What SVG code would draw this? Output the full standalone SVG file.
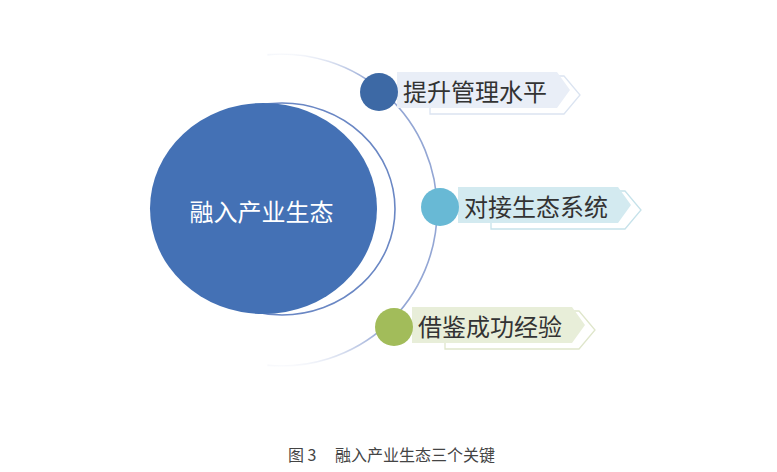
<svg xmlns="http://www.w3.org/2000/svg" width="777" height="472" viewBox="0 0 777 472">
  <style>
    .lbl { font-family: "Noto Sans CJK SC", "Liberation Sans", sans-serif; font-size: 24px; fill: #333333; }
    .main { font-family: "Noto Sans CJK SC", "Liberation Sans", sans-serif; font-size: 24px; fill: #ffffff; }
    .cap { font-family: "Noto Sans CJK SC", "Liberation Sans", sans-serif; font-size: 16px; fill: #444444; }
    .outline { fill: #ffffff; stroke-width: 1.3; }
  </style>
  <defs>
    <linearGradient id="fade" gradientUnits="userSpaceOnUse" x1="0" y1="52" x2="0" y2="368">
      <stop offset="0" stop-color="#93a6d4" stop-opacity="0"/>
      <stop offset="0.09" stop-color="#93a6d4" stop-opacity="1"/>
      <stop offset="0.88" stop-color="#93a6d4" stop-opacity="1"/>
      <stop offset="1" stop-color="#93a6d4" stop-opacity="0"/>
    </linearGradient>
    <polygon id="tagFill" points="397,72 557,72 570,90 557,108 397,108"/>
    <polygon id="tagLine" points="430,76 564,76 580,95 564,114 430,114"/>
  </defs>
  <rect width="777" height="472" fill="#ffffff"/>

  <g id="arcs">
    <path d="M 267.4 54.6 A 156 156 0 1 1 267.4 365.4" fill="none" stroke="url(#fade)" stroke-width="1.6"/>
    <ellipse cx="282" cy="209" rx="113" ry="106" fill="none" stroke="#6a87c4" stroke-width="1.6"/>
  </g>

  <g id="center">
    <ellipse cx="263.5" cy="208.5" rx="113.5" ry="105.5" fill="#4471b5"/>
    <text class="main" x="261.5" y="221" text-anchor="middle">融入产业生态</text>
  </g>

  <g id="node1">
    <use href="#tagLine" class="outline" stroke="#dbe4f1"/>
    <use href="#tagFill" fill="#e9eef7"/>
    <circle cx="379" cy="92" r="19" fill="#3d69a5"/>
    <text class="lbl" x="403" y="101">提升管理水平</text>
  </g>

  <g id="node2" transform="translate(61,115)">
    <use href="#tagLine" class="outline" stroke="#c6e2ea"/>
    <use href="#tagFill" fill="#d3eaf0"/>
    <circle cx="379" cy="92" r="19" fill="#68b9d5"/>
    <text class="lbl" x="403" y="101">对接生态系统</text>
  </g>

  <g id="node3" transform="translate(15,235)">
    <use href="#tagLine" class="outline" stroke="#dfe6cb"/>
    <use href="#tagFill" fill="#e8eed9"/>
    <circle cx="379" cy="92" r="19" fill="#a2bc5a"/>
    <text class="lbl" x="403" y="101">借鉴成功经验</text>
  </g>

  <g id="caption">
    <text class="cap" y="461"><tspan x="288">图 3</tspan><tspan x="335">融入产业生态三个关键</tspan></text>
  </g>
</svg>
